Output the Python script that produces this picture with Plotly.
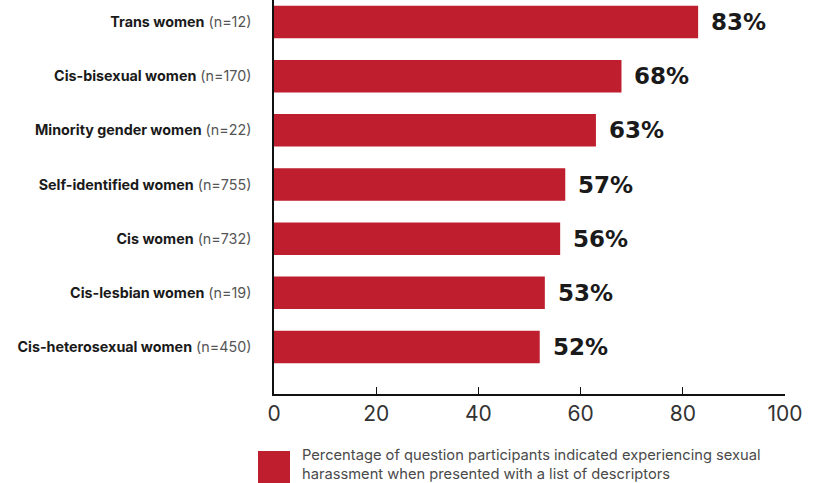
import plotly.graph_objects as go

categories = ["Trans women", "Cis-bisexual women", "Minority gender women",
              "Self-identified women", "Cis women", "Cis-lesbian women",
              "Cis-heterosexual women"]
sample_sizes = [12, 170, 22, 755, 732, 19, 450]
values = [83, 68, 63, 57, 56, 53, 52]
value_labels = ["83%", "68%", "63%", "57%", "56%", "53%", "52%"]
x_ticks = [0, 20, 40, 60, 80, 100]
legend_text = ("Percentage of question participants indicated experiencing sexual<br>"
               "harassment when presented with a list of descriptors")

RED = "#BE1E2D"
tick_text = [f"<b>{c}</b> <span style='color:#555'>(n={n})</span>"
             for c, n in zip(categories, sample_sizes)]

PW, PH = 511, 394  # plot area size in px

fig = go.Figure()
fig.add_trace(go.Bar(
    y=categories, x=values, orientation="h",
    marker=dict(color=RED, line=dict(width=0)),
    width=0.6, showlegend=False, hoverinfo="x+y",
))

for c, v, lab in zip(categories, values, value_labels):
    fig.add_annotation(x=v, y=c, text=f"<b>{lab}</b>", showarrow=False,
                       xanchor="left", xshift=11, yshift=0,
                       font=dict(family="DejaVu Sans", size=23, color="#1a1a1a"))

fig.update_layout(
    width=823, height=483,
    margin=dict(l=274, r=38, t=0, b=89),
    paper_bgcolor="white", plot_bgcolor="white",
    font=dict(family="Inter", color="#222"),
    xaxis=dict(range=[0, 100], tickvals=x_ticks, ticks="inside", ticklen=7,
               tickcolor="#111", tickwidth=1.2, showgrid=False, zeroline=False,
               showline=True, linecolor="#111", linewidth=1.5,
               tickfont=dict(size=21, color="#333", family="Inter")),
    yaxis=dict(type="category", categoryorder="array", categoryarray=categories,
               range=[6.867, -0.406], tickvals=categories, ticktext=tick_text,
               ticks="", showgrid=False, zeroline=False,
               showline=True, linecolor="#111", linewidth=1.5,
               ticklabelstandoff=18,
               tickfont=dict(size=14.3, color="#1a1a1a", family="Inter")),
)

fig.add_shape(type="rect", xref="paper", yref="paper",
              x0=-16/PW, x1=16/PW, y0=-90/PH, y1=-57/PH,
              fillcolor=RED, line=dict(width=0))
fig.add_annotation(xref="paper", yref="paper", x=26/PW, y=-50/PH,
                   xanchor="left", yanchor="top", align="left",
                   text=legend_text, showarrow=False,
                   font=dict(family="Inter", size=14.7, color="#4a4a4a"))

fig.write_html("out.html", config={"displayModeBar": False},
               post_script="document.body.style.margin='0';")
